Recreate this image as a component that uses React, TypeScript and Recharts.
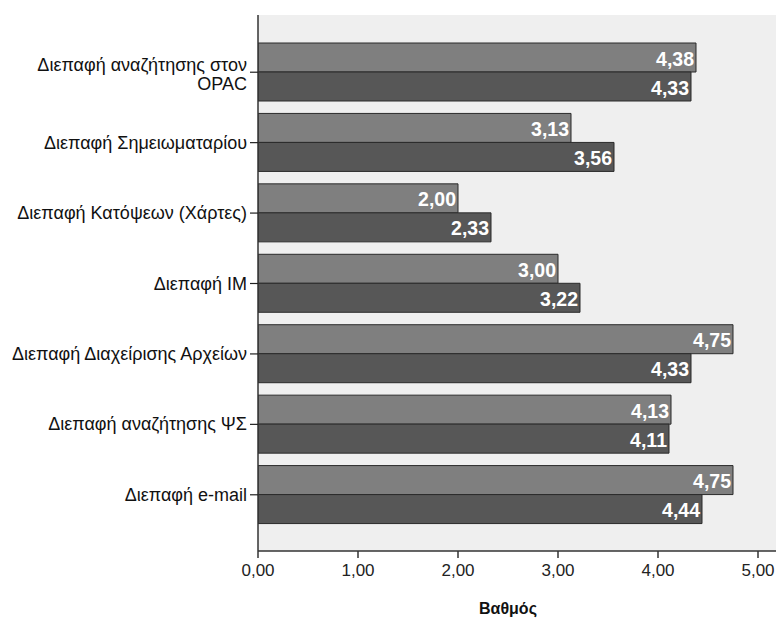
import React from "react";
import {
  Bar,
  BarChart,
  CartesianGrid,
  LabelList,
  XAxis,
  YAxis,
  Label,
} from "recharts";

const interfaces = [
  "Διεπαφή αναζήτησης στον\nOPAC",
  "Διεπαφή Σημειωματαρίου",
  "Διεπαφή Κατόψεων (Χάρτες)",
  "Διεπαφή IM",
  "Διεπαφή Διαχείρισης Αρχείων",
  "Διεπαφή αναζήτησης ΨΣ",
  "Διεπαφή e-mail",
];
const groupA = [4.38, 3.13, 2.0, 3.0, 4.75, 4.13, 4.75];
const groupB = [4.33, 3.56, 2.33, 3.22, 4.33, 4.11, 4.44];
const xTicks = [0, 1, 2, 3, 4, 5];

const data = interfaces.map((name, i) => ({ name, a: groupA[i], b: groupB[i] }));

const FONT = "'Liberation Sans', Arial, sans-serif";
const fmt = (v: number) => v.toFixed(2).replace(".", ",");

function CategoryTick(props: any) {
  const { x, y, payload } = props;
  const lines = String(payload.value).split("\n");
  // two-line labels sit with the first line on the tick, single lines are centred
  const base = lines.length > 1 ? y - 1 : y + 6;
  return (
    <g>
      <line x1={x} x2={x + 8} y1={y} y2={y} stroke="#222" strokeWidth={1.2} />
      <text x={x - 3} y={base} textAnchor="end" fontSize={18} fill="#111" fontFamily={FONT}>
        {lines.map((l, i) => (
          <tspan key={i} x={x - 3} dy={i === 0 ? 0 : 19}>
            {l}
          </tspan>
        ))}
      </text>
    </g>
  );
}

function ValueLabel(props: any) {
  const { x, y, width, height, value } = props;
  return (
    <text
      x={x + width - 2}
      y={y + height / 2 + 8}
      textAnchor="end"
      fontSize={19.5}
      fontWeight="bold"
      fill="#fff"
      fontFamily={FONT}
    >
      {fmt(value)}
    </text>
  );
}

export default function App() {
  return (
    <div
      style={{
        position: "fixed",
        left: 0,
        top: 0,
        width: 776,
        height: 622,
        overflow: "hidden",
        background: "#fff",
      }}
    >
      <BarChart
        width={790}
        height={622}
        data={data}
        layout="vertical"
        margin={{ top: 15, right: 0, left: 0, bottom: 0 }}
        barGap={0}
        barSize={29}
      >
        <CartesianGrid horizontal={false} vertical={false} fill="#efefef" />
        <XAxis
          type="number"
          domain={[0, 5.32]}
          ticks={xTicks}
          allowDataOverflow
          height={71}
          tickFormatter={fmt}
          tick={{ fontSize: 17, fill: "#222", fontFamily: FONT }}
          tickSize={7}
          tickMargin={6}
          axisLine={{ stroke: "#333", strokeWidth: 1.5 }}
          tickLine={{ stroke: "#333", strokeWidth: 1.5 }}
        >
          <Label
            content={(p: any) => (
              <text
                x={p.viewBox.x + 250}
                y={614}
                textAnchor="middle"
                fontSize={16}
                fontWeight="bold"
                fill="#111"
                fontFamily={FONT}
              >
                Βαθμός
              </text>
            )}
          />
        </XAxis>
        <XAxis
          xAxisId="top"
          orientation="top"
          type="number"
          domain={[0, 5.32]}
          height={0}
          tick={false}
          tickLine={false}
          axisLine={{ stroke: "#666", strokeWidth: 2 }}
        />
        <YAxis
          type="category"
          dataKey="name"
          width={258}
          tick={<CategoryTick />}
          tickLine={false}
          axisLine={{ stroke: "#333", strokeWidth: 1.5 }}
          padding={{ top: 22, bottom: 21 }}
        />
        <Bar dataKey="a" fill="#7f7f7f" stroke="#2b2b2b" strokeWidth={1} isAnimationActive={false}>
          <LabelList dataKey="a" content={<ValueLabel />} />
        </Bar>
        <Bar dataKey="b" fill="#575757" stroke="#2b2b2b" strokeWidth={1} isAnimationActive={false}>
          <LabelList dataKey="b" content={<ValueLabel />} />
        </Bar>
      </BarChart>
    </div>
  );
}
